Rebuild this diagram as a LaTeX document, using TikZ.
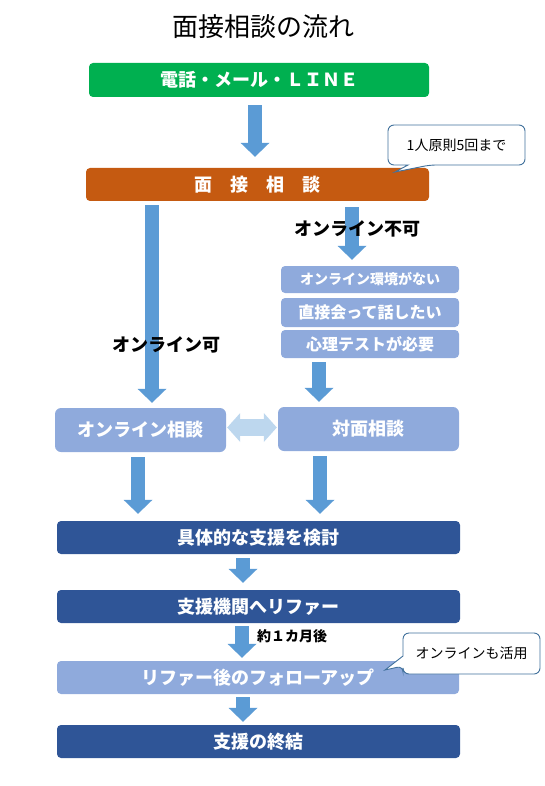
\documentclass[tikz,border=0pt]{standalone}
\usepackage{fontspec}
\setmainfont{Noto Sans CJK JP}
\usepackage{tikz}
\usetikzlibrary{arrows.meta}
\definecolor{telgreen}{HTML}{00B050}
\definecolor{mengorange}{HTML}{C55A11}
\definecolor{arrowblue}{HTML}{5B9BD5}
\definecolor{paleblue}{HTML}{8FAADC}
\definecolor{deepblue}{HTML}{2F5597}
\definecolor{swapblue}{HTML}{BDD7EE}
\definecolor{noteline}{HTML}{41719C}
\tikzset{
  stepbox/.style={rounded corners=4pt, inner sep=0pt, text=white, minimum height=33pt, font=\bfseries\fontsize{18}{18}\selectfont},
  steplabel/.style={inner sep=0pt, font=\bfseries\fontsize{18}{18}\selectfont},
  notebox/.style={draw=noteline, fill=white, line width=0.9pt},
  flowarrow/.style={draw=arrowblue, line width=14pt, -{Triangle[length=14pt 0, width=29pt 0, line width=0pt 0]}},
  swaparrow/.style={draw=swapblue, line width=17pt, {Triangle[length=13pt 0, width=29pt 0, line width=0pt 0]}-{Triangle[length=13pt 0, width=29pt 0, line width=0pt 0]}}
}

\begin{document}
\begin{tikzpicture}[x=1pt, y=-1pt]
\useasboundingbox (0,0) rectangle (544,786);
% title
\node (title) at (263,27) {\fontsize{26}{26}\selectfont 面接相談の流れ};
% boxes
\node[stepbox, fill=telgreen, minimum width=340pt, minimum height=34pt] (tel) at (259,80) {電話・メール・ＬＩＮＥ};
\node[stepbox, fill=mengorange, minimum width=343pt] (meng) at (257.5,184.5) {面　接　相　談};
\node[stepbox, fill=paleblue, minimum width=178pt, minimum height=27pt, font=\bfseries\fontsize{14}{14}\selectfont] (r1) at (370,279.5) {オンライン環境がない};
\node[stepbox, fill=paleblue, minimum width=178pt, minimum height=29pt, font=\bfseries\fontsize{16}{16}\selectfont] (r2) at (370,312.5) {直接会って話したい};
\node[stepbox, fill=paleblue, minimum width=178pt, minimum height=28pt, font=\bfseries\fontsize{16}{16}\selectfont] (r3) at (370,344) {心理テストが必要};
\node[stepbox, fill=paleblue, minimum width=171pt, minimum height=44pt, rounded corners=6pt] (onl) at (140.5,430) {オンライン相談};
\node[stepbox, fill=paleblue, minimum width=181pt, minimum height=44pt, rounded corners=6pt] (face) at (368.5,429) {対面相談};
\node[stepbox, fill=deepblue, minimum width=403pt] (kento) at (258.5,537.5) {具体的な支援を検討};
\node[stepbox, fill=deepblue, minimum width=403pt] (refer) at (258.5,606.5) {支援機関へリファー};
\node[stepbox, fill=paleblue, minimum width=402pt] (follow) at (258,677.5) {リファー後のフォローアップ};
\node[stepbox, fill=deepblue, minimum width=403pt] (owari) at (258.5,741.5) {支援の終結};
% arrows
\draw[flowarrow, shorten <=8pt, shorten >=11pt] ([xshift=-4pt]tel.south) -- ([xshift=-4pt]tel.south |- meng.north);
\draw[flowarrow, shorten <=4pt, shorten >=5pt] ([xshift=-105.5pt]meng.south) -- ([xshift=-105.5pt]meng.south |- onl.north);
\draw[flowarrow, shorten <=6pt, shorten >=6pt] ([xshift=94.5pt]meng.south) -- ([xshift=94.5pt]meng.south |- r1.north);
\draw[flowarrow, shorten <=4pt, shorten >=5pt] ([xshift=-51pt]r3.south) -- ([xshift=-51pt]r3.south |- face.north);
\draw[flowarrow, shorten <=5pt, shorten >=7pt] ([xshift=-2.5pt]onl.south) -- ([xshift=-2.5pt]onl.south |- kento.north);
\draw[flowarrow, shorten <=5pt, shorten >=7pt] ([xshift=-48.5pt]face.south) -- ([xshift=-48.5pt]face.south |- kento.north);
\draw[flowarrow, shorten <=4pt, shorten >=7pt] ([xshift=-15.5pt]kento.south) -- ([xshift=-15.5pt]kento.south |- refer.north);
\draw[flowarrow, shorten <=3pt, shorten >=3pt] ([xshift=-16.5pt]refer.south) -- ([xshift=-16.5pt]refer.south |- follow.north);
\draw[flowarrow, shorten <=3pt, shorten >=3pt] ([xshift=-15pt]follow.south) -- ([xshift=-15pt]follow.south |- owari.north);
\draw[swaparrow, shorten <=1pt, shorten >=1pt] ([yshift=2.5pt]onl.east) -- ([yshift=2.5pt]onl.east -| face.west);
% labels
\node[steplabel] (noonline) at (357,229) {オンライン不可};
\node[steplabel] (online) at (166,345) {オンライン可};
\node[steplabel, font=\bfseries\fontsize{14}{14}\selectfont] (later) at (292,636) {約１カ月後};
% callouts
\draw[notebox, rounded corners=6pt] (388,125) -- (525,125) -- (525,165) -- (430,165) [sharp corners] -- (395,172) -- (408,165) [rounded corners=6pt] -- (388,165) -- cycle;
\node[font=\fontsize{14}{14}\selectfont] (note1) at (456.5,145) {1人原則5回まで};
\draw[notebox, rounded corners=6pt] (403,633) -- (540,633) -- (540,674) -- (403,674) -- (403,666) [sharp corners] -- (385,670) -- (403,656) [rounded corners=6pt] -- cycle;
\node[font=\fontsize{14}{14}\selectfont] (note2) at (471.5,653.5) {オンラインも活用};
\end{tikzpicture}
\end{document}
